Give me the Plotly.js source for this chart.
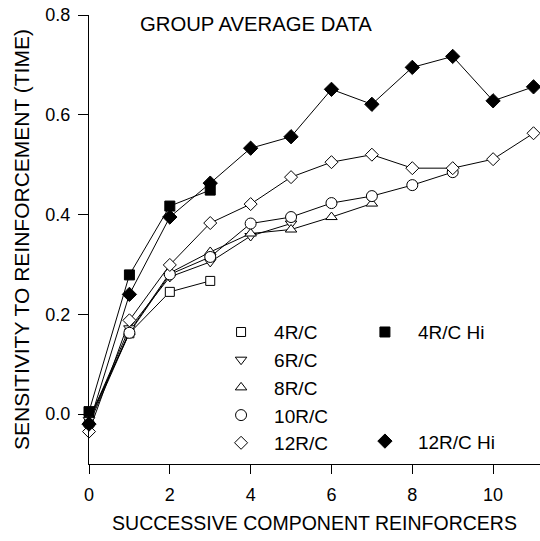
<!DOCTYPE html>
<html>
<head>
<meta charset="utf-8">
<script src="https://cdn.plot.ly/plotly-3.0.1.min.js"></script>
<style>html,body{margin:0;padding:0;background:#fff;}#chart{width:540px;height:541px;}</style>
</head>
<body>
<div id="chart"></div>
<script>
// Successive component reinforcers (x categories)
const reinforcers = [0, 1, 2, 3, 4, 5, 6, 7, 8, 9, 10, 11];

// Sensitivity to reinforcement (time) per condition
const r4   = [-0.010, 0.162, 0.245, 0.267];
const r6   = [-0.012, 0.172, 0.275, 0.305, 0.357, 0.382];
const r8   = [-0.015, 0.165, 0.283, 0.325, 0.362, 0.370, 0.395, 0.422];
const r10  = [-0.020, 0.163, 0.280, 0.315, 0.382, 0.395, 0.423, 0.437, 0.459, 0.485];
const r12  = [-0.035, 0.188, 0.299, 0.383, 0.421, 0.475, 0.505, 0.520, 0.493, 0.493, 0.511, 0.563];
const r4hi = [0.005, 0.279, 0.417, 0.449];
const r12hi= [-0.020, 0.240, 0.395, 0.463, 0.533, 0.556, 0.651, 0.621, 0.695, 0.717, 0.628, 0.656];

const seriesNames = ["4R/C", "6R/C", "8R/C", "10R/C", "12R/C", "4R/C Hi", "12R/C Hi"];
const yTickVals = [0.0, 0.2, 0.4, 0.6, 0.8];
const xTickVals = [0, 2, 4, 6, 8, 10];

const series = [
  {name: seriesNames[0], y: r4,   symbol: "square",        fill: "white", size: 9,  legend: "legend"},
  {name: seriesNames[1], y: r6,   symbol: "triangle-down", fill: "white", size: 10, legend: "legend"},
  {name: seriesNames[2], y: r8,   symbol: "triangle-up",   fill: "white", size: 10, legend: "legend"},
  {name: seriesNames[3], y: r10,  symbol: "circle",        fill: "white", size: 11, legend: "legend"},
  {name: seriesNames[4], y: r12,  symbol: "diamond",       fill: "white", size: 10, legend: "legend"},
  {name: seriesNames[5], y: r4hi, symbol: "square",        fill: "black", size: 10, legend: "legend2"},
  {name: seriesNames[6], y: r12hi,symbol: "diamond",       fill: "black", size: 11, legend: "legend3"}
];

const traces = [];
// connecting lines first
series.forEach(s => {
  traces.push({
    type: "scatter", mode: "lines",
    x: reinforcers.slice(0, s.y.length), y: s.y,
    line: {color: "black", width: 1},
    showlegend: false, hoverinfo: "skip", cliponaxis: false
  });
});
// markers on top
series.forEach((s, i) => {
  traces.push({
    type: "scatter", mode: "markers", name: s.name,
    x: reinforcers.slice(0, s.y.length), y: s.y,
    marker: {symbol: s.symbol, size: s.size, color: s.fill, line: {color: "black", width: 1}},
    legend: s.legend, legendgroup: "g" + i,
    cliponaxis: false
  });
});

const fontFam = "Liberation Sans, Arial, sans-serif";
const legendBase = {
  bgcolor: "rgba(0,0,0,0)", borderwidth: 0,
  font: {family: fontFam, size: 19, color: "black"},
  itemwidth: 56, tracegroupgap: 0,
  xanchor: "left", yanchor: "top", traceorder: "normal"
};

const layout = {
  width: 540, height: 541,
  margin: {l: 89, r: 0, t: 15, b: 77},
  paper_bgcolor: "white", plot_bgcolor: "white",
  font: {family: fontFam, color: "black"},
  showlegend: true,
  xaxis: {
    range: [0, 11.16], tickvals: xTickVals, ticks: "outside", ticklen: 9, tickwidth: 1,
    tickcolor: "black", showline: true, linecolor: "black", linewidth: 1,
    showgrid: false, zeroline: false, ticklabelstandoff: 5,
    tickfont: {size: 18, family: fontFam},
    title: {text: "SUCCESSIVE COMPONENT REINFORCERS", font: {size: 19.5, family: fontFam}, standoff: 12}
  },
  yaxis: {
    range: [-0.1, 0.8], tickvals: yTickVals, tickformat: ".1f", ticks: "outside", ticklen: 10, tickwidth: 1,
    tickcolor: "black", showline: true, linecolor: "black", linewidth: 1,
    showgrid: false, zeroline: false, ticklabelstandoff: 4,
    tickfont: {size: 18, family: fontFam},
    title: {text: "SENSITIVITY TO REINFORCEMENT (TIME)", font: {size: 21, family: fontFam}, standoff: 10}
  },
  legend: Object.assign({}, legendBase, {x: 0.264, y: 0.336}),
  legend2: Object.assign({}, legendBase, {x: 0.583, y: 0.336}),
  legend3: Object.assign({}, legendBase, {x: 0.583, y: 0.093}),
  annotations: [{
    text: "GROUP AVERAGE DATA", xref: "paper", yref: "paper",
    x: 0.108, y: 0.98, xanchor: "left", yanchor: "middle", showarrow: false,
    font: {size: 20.3, family: fontFam, color: "black"}
  }]
};

Plotly.newPlot("chart", traces, layout, {displayModeBar: false, staticPlot: true});
</script>
</body>
</html>
